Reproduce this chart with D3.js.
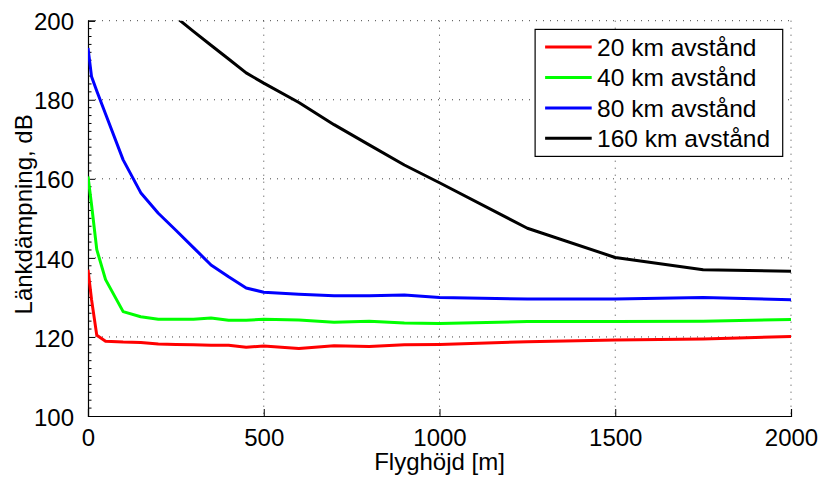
<!DOCTYPE html>
<html>
<head>
<meta charset="utf-8">
<script src="https://cdn.jsdelivr.net/npm/d3@7"></script>
<style>
    body { margin: 0; background: #fff; }
    text { font-family: "Liberation Sans", Arial, sans-serif; fill: #000; }
</style>
</head>
<body>
<div id="chart"></div>
<script>
// altitude (m) for the 20/40/80 km curves
const altitudes = [0, 10, 25, 50, 100, 150, 200, 250, 300, 350, 400, 450, 500, 600, 700, 800, 900, 1000, 1250, 1500, 1750, 2000];
const loss20 = [137.0, 129.5, 120.4, 118.9, 118.7, 118.6, 118.2, 118.1, 118.0, 117.9, 117.9, 117.4, 117.7, 117.1, 117.8, 117.6, 118.0, 118.1, 118.8, 119.2, 119.5, 120.1];
const loss40 = [160.6, 153.5, 142.1, 134.5, 126.4, 125.1, 124.5, 124.5, 124.5, 124.8, 124.2, 124.2, 124.5, 124.3, 123.7, 124.0, 123.5, 123.4, 123.9, 123.9, 124.0, 124.4];
const loss80 = [193.1, 185.9, 182.2, 176.4, 164.8, 156.5, 151.3, 147.0, 142.6, 138.2, 135.2, 132.4, 131.3, 130.8, 130.4, 130.4, 130.6, 130.0, 129.6, 129.6, 130.0, 129.4];
// 160 km curve only enters the window above ~250 m
const altitudes160 = [250, 300, 350, 400, 450, 500, 600, 700, 800, 900, 1000, 1250, 1500, 1750, 2000];
const loss160 = [200.9, 197.3, 193.8, 190.3, 186.8, 184.2, 179.3, 173.7, 168.6, 163.5, 159.0, 147.5, 140.1, 137.0, 136.6];

const seriesNames = ["20 km avstånd", "40 km avstånd", "80 km avstånd", "160 km avstånd"];
const seriesColors = ["#ff0000", "#00ff00", "#0000ff", "#000000"];

const xTicks = [0, 500, 1000, 1500, 2000];
const yTicks = [100, 120, 140, 160, 180, 200];

class LineChart {
    constructor(parentElement, series) {
        this.parentElement = parentElement;
        this.series = series;
    }

    initVis() {
        let vis = this;

        vis.margin = {top: 20.7, right: 32, bottom: 62, left: 88};
        vis.width = 823 - vis.margin.left - vis.margin.right;
        vis.height = 478 - vis.margin.top - vis.margin.bottom;

        vis.svg = d3.select("#" + vis.parentElement).append("svg")
            .attr("width", 823)
            .attr("height", 478)
            .append("g")
            .attr("transform", "translate(" + vis.margin.left + "," + vis.margin.top + ")");

        vis.svg.append("defs").append("clipPath")
            .attr("id", "clip")
            .append("rect")
            .attr("width", vis.width)
            .attr("height", vis.height);

        vis.x = d3.scaleLinear().domain([0, 2000]).range([0, vis.width]);
        vis.y = d3.scaleLinear().domain([100, 200]).range([vis.height, 0]);

        // dotted grid
        vis.svg.append("g").selectAll("line.hgrid")
            .data(yTicks.slice(1))
            .join("line")
            .attr("x1", 0).attr("x2", vis.width)
            .attr("y1", d => vis.y(d)).attr("y2", d => vis.y(d))
            .attr("stroke", "#444").attr("stroke-width", 1)
            .attr("stroke-dasharray", "1,6");
        vis.svg.append("g").selectAll("line.vgrid")
            .data(xTicks.slice(1))
            .join("line")
            .attr("x1", d => vis.x(d)).attr("x2", d => vis.x(d))
            .attr("y1", 0).attr("y2", vis.height)
            .attr("stroke", "#444").attr("stroke-width", 1)
            .attr("stroke-dasharray", "1,6");

        // axes, ticks pointing inward
        vis.xAxis = d3.axisBottom(vis.x).tickValues(xTicks).tickSize(-7).tickPadding(14).tickFormat(d => d);
        vis.yAxis = d3.axisLeft(vis.y).tickValues(yTicks).tickSize(-7).tickPadding(14).tickFormat(d => d);

        vis.svg.append("g")
            .attr("class", "x-axis axis")
            .attr("transform", "translate(0," + vis.height + ")")
            .call(vis.xAxis);
        vis.svg.append("g")
            .attr("class", "y-axis axis")
            .call(vis.yAxis);

        // minor ticks on y every 2 dB
        vis.svg.append("g").selectAll("line")
            .data(d3.range(100, 200, 2).filter(v => v % 20 !== 0))
            .join("line")
            .attr("x1", 0).attr("x2", 3.5)
            .attr("y1", d => vis.y(d)).attr("y2", d => vis.y(d))
            .attr("stroke", "#000").attr("stroke-width", 1);

        vis.svg.selectAll(".axis path").attr("stroke", "#000").attr("stroke-width", 1.2);
        vis.svg.selectAll(".axis line").attr("stroke", "#000");
        vis.svg.selectAll(".axis text").attr("font-size", 24).attr("font-family", "Liberation Sans, Arial, sans-serif");
        vis.svg.select(".y-axis").selectAll("text").attr("dy", "0.38em");
        vis.svg.select(".x-axis").selectAll("text").attr("dy", "0.72em").attr("dy", null).attr("y", 29.5);

        // axis labels
        vis.svg.append("text")
            .attr("x", vis.width / 2)
            .attr("y", vis.height + 54)
            .attr("text-anchor", "middle")
            .attr("font-size", 24)
            .text("Flyghöjd [m]");

        vis.svg.append("text")
            .attr("transform", `translate(${-vis.margin.left + 31.5},${vis.height / 2 - 4}) rotate(-90)`)
            .attr("text-anchor", "middle")
            .attr("font-size", 24)
            .text("Länkdämpning, dB");

        vis.updateVis();
    }

    updateVis() {
        let vis = this;

        let line = d3.line()
            .x(d => vis.x(d[0]))
            .y(d => vis.y(d[1]));

        vis.svg.append("g")
            .attr("clip-path", "url(#clip)")
            .selectAll("path")
            .data(vis.series)
            .join("path")
            .attr("fill", "none")
            .attr("stroke-width", 3)
            .attr("stroke-linejoin", "round")
            .attr("stroke", d => d.color)
            .attr("d", d => line(d.points));

        // legend
        let lx = vis.x(1272), ly = vis.y(197.8);
        let legend = vis.svg.append("g").attr("transform", `translate(${lx},${ly})`);
        legend.append("rect")
            .attr("width", 247.6).attr("height", 127)
            .attr("fill", "#fff").attr("stroke", "#000").attr("stroke-width", 1.2);
        let rows = legend.selectAll("g.row")
            .data(vis.series)
            .join("g")
            .attr("transform", (d, i) => `translate(0,${17.7 + i * 30.4})`);
        rows.append("line")
            .attr("x1", 10).attr("x2", 56.6)
            .attr("stroke", d => d.color).attr("stroke-width", 3);
        rows.append("text")
            .attr("x", 62)
            .attr("y", 8.6)
            .attr("font-size", 24.5)
            .text(d => d.name);
    }
}

const series = [
    {name: seriesNames[0], color: seriesColors[0], points: altitudes.map((a, i) => [a, loss20[i]])},
    {name: seriesNames[1], color: seriesColors[1], points: altitudes.map((a, i) => [a, loss40[i]])},
    {name: seriesNames[2], color: seriesColors[2], points: altitudes.map((a, i) => [a, loss80[i]])},
    {name: seriesNames[3], color: seriesColors[3], points: altitudes160.map((a, i) => [a, loss160[i]])}
];

let chart = new LineChart("chart", series);
chart.initVis();
</script>
</body>
</html>
